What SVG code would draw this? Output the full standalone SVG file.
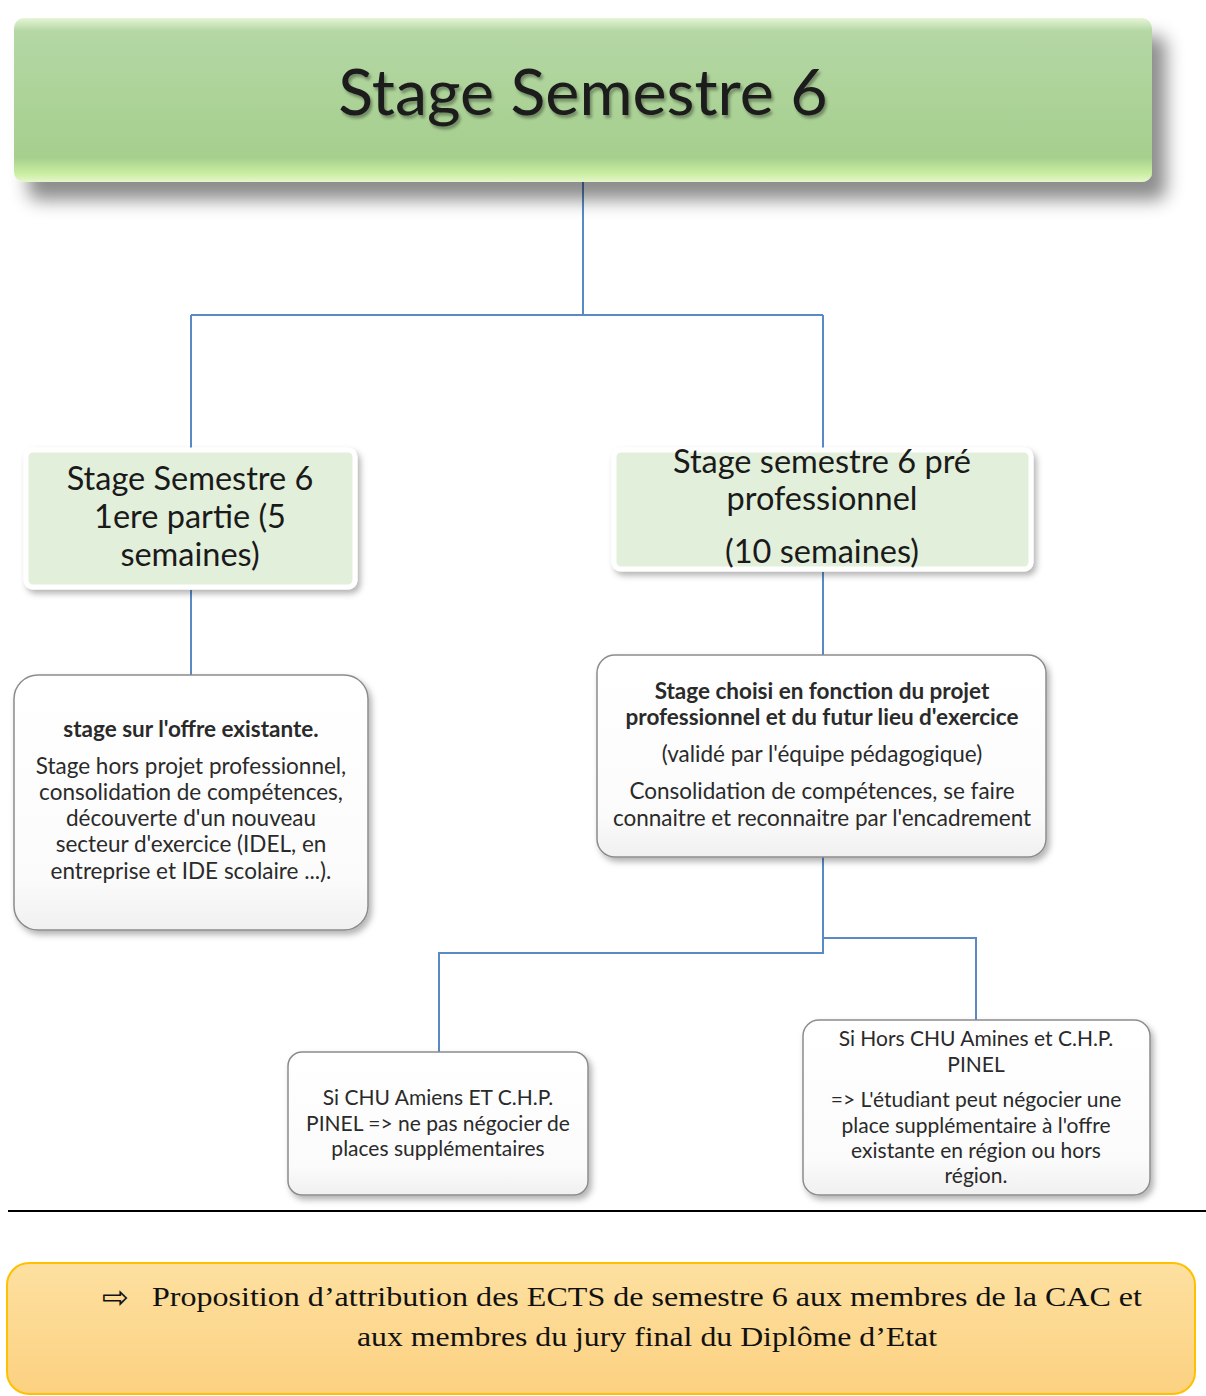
<svg xmlns="http://www.w3.org/2000/svg" width="1206" height="1396" viewBox="0 0 1206 1396">
<defs>
<linearGradient id="gTop" x1="0" y1="0" x2="0" y2="1">
<stop offset="0" stop-color="#e6f5d6"/>
<stop offset="0.08" stop-color="#b4d7a4"/>
<stop offset="0.85" stop-color="#a6cf8e"/>
<stop offset="0.94" stop-color="#c6ec9e"/>
<stop offset="1" stop-color="#e4f7c8"/>
</linearGradient>
<linearGradient id="gGray" x1="0" y1="0" x2="0" y2="1">
<stop offset="0" stop-color="#ffffff"/>
<stop offset="0.8" stop-color="#fbfbfb"/>
<stop offset="1" stop-color="#f0f0f0"/>
</linearGradient>
<linearGradient id="gOrange" x1="0" y1="0" x2="0" y2="1">
<stop offset="0" stop-color="#fde0a0"/>
<stop offset="1" stop-color="#fcd181"/>
</linearGradient>
<filter id="shTop" x="-5%" y="-20%" width="115%" height="160%">
<feDropShadow dx="14" dy="18" stdDeviation="9" flood-color="#000" flood-opacity="0.45"/>
</filter>
<filter id="shSm" x="-10%" y="-10%" width="125%" height="130%">
<feDropShadow dx="3" dy="4" stdDeviation="3" flood-color="#000" flood-opacity="0.3"/>
</filter>
<filter id="txtSh" x="-5%" y="-20%" width="110%" height="150%">
<feDropShadow dx="2" dy="3" stdDeviation="1.5" flood-color="#000" flood-opacity="0.35"/>
</filter>
</defs>
<style>
.conn { fill: none; stroke: #5a8ac4; stroke-width: 2; }
.t { font-family: Lato, "Open Sans", "Liberation Sans", sans-serif; fill: #1a1a1a; text-anchor: middle; }
.lvl1 { font-size: 32.5px; }
.box { fill: url(#gGray); stroke: #8c8c8c; stroke-width: 1.5; filter: url(#shSm); }
.green { fill: #e2efda; stroke: #ffffff; stroke-width: 5; filter: url(#shSm); }
.body { font-size: 22.5px; fill: #2a2a2a; }
.small { font-size: 21px; fill: #2a2a2a; }
.ser { font-family: "Liberation Serif", "Times New Roman", serif; font-size: 28px; fill: #111; }
</style>
<rect width="1206" height="1396" fill="#ffffff"/>

<g id="connectors">
<path class="conn" d="M583 182 V315 M191 315 H823 M191 315 V448 M823 315 V448"/>
<path class="conn" d="M191 590 V675 M823 572 V655"/>
<path class="conn" d="M823 857 V953 H439 V1052 M823 938 H976 V1020"/>
</g>

<g id="node-top">
<rect x="14" y="18" width="1138" height="164" rx="10" fill="url(#gTop)" filter="url(#shTop)"/>
<text class="t" x="583" y="115" font-size="64.5" filter="url(#txtSh)" fill="#111">Stage Semestre 6</text>
</g>

<g id="node-s6-1">
<rect class="green" x="26" y="450" width="329" height="137" rx="7"/>
<text class="t lvl1" x="190" y="490">Stage Semestre 6</text>
<text class="t lvl1" x="190" y="528">1ere partie (5</text>
<text class="t lvl1" x="190" y="566">semaines)</text>
</g>

<g id="node-s6-pre">
<rect class="green" x="614" y="450" width="417" height="119" rx="7"/>
<text class="t lvl1" x="822" y="473">Stage semestre 6 pré</text>
<text class="t lvl1" x="822" y="510">professionnel</text>
<text class="t lvl1" x="822" y="563">(10 semaines)</text>
</g>

<g id="node-offre">
<rect class="box" x="14" y="675" width="354" height="255" rx="24"/>
<text class="t body" x="191" y="737" font-weight="bold">stage sur l'offre existante.</text>
<text class="t body" x="191" y="774">Stage hors projet professionnel,</text>
<text class="t body" x="191" y="800">consolidation de compétences,</text>
<text class="t body" x="191" y="826">découverte d'un nouveau</text>
<text class="t body" x="191" y="852">secteur d'exercice (IDEL, en</text>
<text class="t body" x="191" y="879">entreprise et IDE scolaire ...).</text>
</g>

<g id="node-choisi">
<rect class="box" x="597" y="655" width="449" height="202" rx="18"/>
<text class="t body" x="822" y="699" font-weight="bold">Stage choisi en fonction du projet</text>
<text class="t body" x="822" y="725" font-weight="bold">professionnel et du futur lieu d'exercice</text>
<text class="t body" x="822" y="762">(validé par l'équipe pédagogique)</text>
<text class="t body" x="822" y="799">Consolidation de compétences, se faire</text>
<text class="t body" x="822" y="826">connaitre et reconnaitre par l'encadrement</text>
</g>

<g id="node-chu">
<rect class="box" x="288" y="1052" width="300" height="143" rx="14"/>
<text class="t small" x="438" y="1105">Si CHU Amiens ET C.H.P.</text>
<text class="t small" x="438" y="1131">PINEL  =&gt; ne pas négocier de</text>
<text class="t small" x="438" y="1156">places supplémentaires</text>
</g>

<g id="node-hors">
<rect class="box" x="803" y="1020" width="347" height="175" rx="16"/>
<text class="t small" x="976" y="1046">Si Hors CHU Amines et C.H.P.</text>
<text class="t small" x="976" y="1072">PINEL</text>
<text class="t small" x="976" y="1107">=&gt; L'étudiant peut négocier une</text>
<text class="t small" x="976" y="1133">place supplémentaire à l'offre</text>
<text class="t small" x="976" y="1158">existante en région ou hors</text>
<text class="t small" x="976" y="1183">région.</text>
</g>

<line x1="8" y1="1211" x2="1206" y2="1211" stroke="#000" stroke-width="2"/>

<g id="node-ects">
<rect x="7" y="1263" width="1188" height="131" rx="22" fill="url(#gOrange)" stroke="#ffc000" stroke-width="2"/>
<text x="102" y="1308" font-family="DejaVu Sans, sans-serif" font-size="32" fill="#111">⇨</text>
<text class="ser" x="152" y="1306" textLength="990" lengthAdjust="spacingAndGlyphs">Proposition  d’attribution  des ECTS de semestre  6 aux membres  de la CAC et</text>
<text class="ser" x="357" y="1346" textLength="580" lengthAdjust="spacingAndGlyphs">aux membres  du jury final  du Diplôme  d’Etat</text>
</g>
</svg>
